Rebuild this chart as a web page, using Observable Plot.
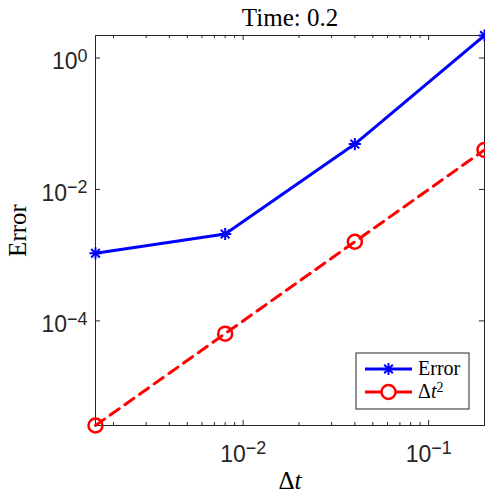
<!DOCTYPE html>
<html>
<head>
<meta charset="utf-8">
<script src="https://cdn.jsdelivr.net/npm/d3@7"></script>
<script src="https://cdn.jsdelivr.net/npm/@observablehq/plot@0.6"></script>
<style>
  html, body { margin: 0; padding: 0; background: #fff; }
  svg { display: block; }
</style>
</head>
<body>
<div id="chart"></div>
<script>
// ---- data ----
const dt = [0.0016, 0.008, 0.04, 0.2];
const errorValues = [1.07e-3, 2.1e-3, 0.049, 2.2];
const dt2Values = [2.56e-6, 6.4e-5, 1.6e-3, 0.04];
const xMajorTicks = [0.01, 0.1];
const xMajorLabels = ["10^−2", "10^−1"];
const xMinorTicks = [0.002, 0.003, 0.004, 0.005, 0.006, 0.007, 0.008, 0.009,
                     0.02, 0.03, 0.04, 0.05, 0.06, 0.07, 0.08, 0.09];
const yMajorTicks = [1, 0.01, 0.0001];
const yMajorLabels = ["10^0", "10^−2", "10^−4"];
const seriesNames = ["Error", "Δt^2"];
const titleText = "Time: 0.2";
const xLabel = "Δt";
const yLabel = "Error";

const errRows = dt.map((d, i) => ({dt: d, v: errorValues[i]}));
const dt2Rows = dt.map((d, i) => ({dt: d, v: dt2Values[i]}));

const W = 485, H = 495;
const mL = 95, mR = 1, mT = 35, mB = 70;
const plotH = H - mT - mB;
const plotW = W - mL - mR;
const tickCol = "#262626";
const serif = "'Liberation Serif', 'DejaVu Serif', serif";
const sans = "'Liberation Sans', Arial, sans-serif";

const chart = Plot.plot({
  width: W, height: H,
  marginLeft: mL, marginRight: mR, marginTop: mT, marginBottom: mB,
  style: {background: "#fff", overflow: "visible"},
  x: {type: "log", domain: d3.extent(dt), axis: null},
  y: {type: "log", domain: [d3.min(dt2Values), d3.max(errorValues)], axis: null},
  marks: [
    Plot.frame({stroke: tickCol, strokeWidth: 1}),
    // bottom & top x ticks
    Plot.tickX(xMajorTicks, {x: d => d, insetTop: plotH - 5, stroke: tickCol}),
    Plot.tickX(xMajorTicks, {x: d => d, insetBottom: plotH - 5, stroke: tickCol}),
    Plot.tickX(xMinorTicks, {x: d => d, insetTop: plotH - 3, stroke: tickCol}),
    Plot.tickX(xMinorTicks, {x: d => d, insetBottom: plotH - 3, stroke: tickCol}),
    // left & right y ticks
    Plot.tickY(yMajorTicks, {y: d => d, insetRight: plotW - 5, stroke: tickCol}),
    Plot.tickY(yMajorTicks, {y: d => d, insetLeft: plotW - 5, stroke: tickCol}),
    // tick labels
    Plot.text(xMajorTicks, {x: d => d, text: (d, i) => xMajorLabels[i], frameAnchor: "bottom",
      lineAnchor: "middle", dy: 29, textAnchor: "middle", fill: tickCol, fontSize: 23, fontFamily: sans}),
    Plot.text(yMajorTicks, {y: d => d, text: (d, i) => yMajorLabels[i], frameAnchor: "left",
      lineAnchor: "middle", dx: -8, dy: 4, textAnchor: "end", fill: tickCol, fontSize: 23, fontFamily: sans}),
    // series
    Plot.line(dt2Rows, {x: "dt", y: "v", stroke: "#ff0000", strokeWidth: 3, strokeDasharray: "11,7"}),
    Plot.dot(dt2Rows, {x: "dt", y: "v", r: 7, stroke: "#ff0000", strokeWidth: 2.5, fill: "none"}),
    Plot.line(errRows, {x: "dt", y: "v", stroke: "#0000ff", strokeWidth: 3}),
    Plot.dot(errRows, {x: "dt", y: "v", symbol: "plus", r: 4, stroke: "#0000ff", strokeWidth: 2}),
    Plot.dot(errRows, {x: "dt", y: "v", symbol: "times", r: 4, stroke: "#0000ff", strokeWidth: 2}),
    // title and axis labels
    Plot.text([titleText], {frameAnchor: "top", lineAnchor: "middle", textAnchor: "middle",
      dy: -18, fontSize: 25, fontFamily: serif, fill: "#000"}),
    Plot.text([xLabel], {frameAnchor: "bottom", lineAnchor: "middle", textAnchor: "middle",
      dy: 55, fontSize: 25, fontFamily: serif, fill: "#000"}),
    Plot.text([yLabel], {frameAnchor: "left", lineAnchor: "middle", textAnchor: "middle",
      dx: -78, rotate: -90, fontSize: 25, fontFamily: serif, fill: "#000"})
  ]
});

document.getElementById("chart").appendChild(chart);
const svg = d3.select(chart);

// superscripts in tick labels: "base^exp"
svg.selectAll("text").each(function() {
  const t = this.textContent;
  if (t.includes("^")) {
    const [base, exp] = t.split("^");
    const el = d3.select(this);
    el.text(null);
    el.append("tspan").text(base);
    el.append("tspan").attr("dy", "-0.42em").attr("font-size", "0.78em").text(exp);
  } else if (t === xLabel) {
    const el = d3.select(this);
    el.text(null);
    el.append("tspan").text("Δ");
    el.append("tspan").attr("font-style", "italic").text("t");
  }
});

// legend, positioned relative to the plot frame
const xr = chart.scale("x").range, yr = chart.scale("y").range;
const right = Math.max(...xr), bottom = Math.max(...yr);
const bx = right - 128, by = bottom - 72, bw = 113, bh = 56;
const lg = svg.append("g").attr("font-family", serif).attr("font-size", 20).attr("text-anchor", "start");
lg.append("rect").attr("x", bx).attr("y", by).attr("width", bw).attr("height", bh)
  .attr("fill", "#fff").attr("stroke", tickCol).attr("stroke-width", 1);
const rows = [
  {name: seriesNames[0], color: "#0000ff", y: by + 16},
  {name: seriesNames[1], color: "#ff0000", y: by + 39}
];
rows.forEach((r, i) => {
  lg.append("line").attr("x1", bx + 9).attr("x2", bx + 56).attr("y1", r.y).attr("y2", r.y)
    .attr("stroke", r.color).attr("stroke-width", 3);
  const mx = bx + 32.5;
  if (i === 0) {
    const s = 6;
    lg.append("path").attr("d", `M${mx - s},${r.y}H${mx + s}M${mx},${r.y - s}V${r.y + s}` +
      `M${mx - 4.3},${r.y - 4.3}L${mx + 4.3},${r.y + 4.3}M${mx - 4.3},${r.y + 4.3}L${mx + 4.3},${r.y - 4.3}`)
      .attr("stroke", r.color).attr("stroke-width", 2).attr("fill", "none");
  } else {
    lg.append("circle").attr("cx", mx).attr("cy", r.y).attr("r", 7)
      .attr("stroke", r.color).attr("stroke-width", 2.5).attr("fill", "#fff");
  }
  const t = lg.append("text").attr("x", bx + 62).attr("y", r.y + 6).attr("fill", "#000");
  if (r.name.includes("^")) {
    const [base, exp] = r.name.split("^");
    t.append("tspan").text("Δ");
    t.append("tspan").attr("font-style", "italic").text("t");
    t.append("tspan").attr("dy", "-0.45em").attr("font-size", "0.7em").text(exp);
  } else {
    t.text(r.name);
  }
});
</script>
</body>
</html>
